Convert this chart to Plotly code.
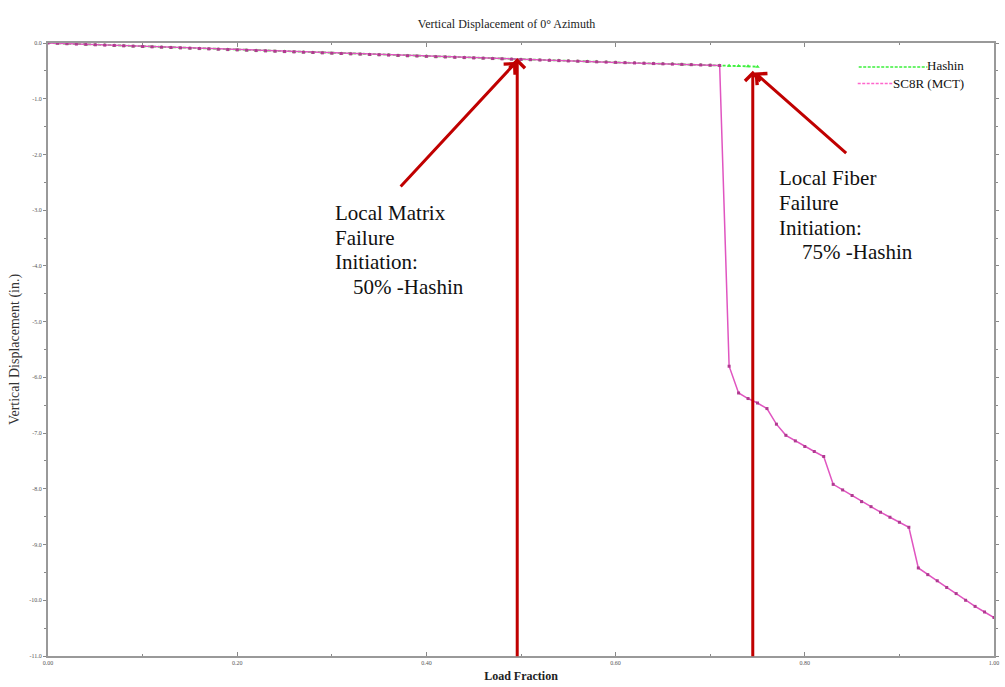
import plotly.graph_objects as go

# ---------------- data ----------------
hashin_x = [0.00, 0.01, 0.02, 0.03, 0.04, 0.05, 0.06, 0.07, 0.08, 0.09,
            0.10, 0.11, 0.12, 0.13, 0.14, 0.15, 0.16, 0.17, 0.18, 0.19,
            0.20, 0.21, 0.22, 0.23, 0.24, 0.25, 0.26, 0.27, 0.28, 0.29,
            0.30, 0.31, 0.32, 0.33, 0.34, 0.35, 0.36, 0.37, 0.38, 0.39,
            0.40, 0.41, 0.42, 0.43, 0.44, 0.45, 0.46, 0.47, 0.48, 0.49,
            0.50, 0.51, 0.52, 0.53, 0.54, 0.55, 0.56, 0.57, 0.58, 0.59,
            0.60, 0.61, 0.62, 0.63, 0.64, 0.65, 0.66, 0.67, 0.68, 0.69,
            0.70, 0.71, 0.72, 0.73, 0.74, 0.75]
hashin_y = [0.000, -0.006, -0.013, -0.019, -0.025, -0.032, -0.038, -0.044, -0.051, -0.057,
            -0.063, -0.069, -0.075, -0.081, -0.088, -0.094, -0.100, -0.106, -0.112, -0.118,
            -0.124, -0.130, -0.136, -0.142, -0.148, -0.154, -0.160, -0.166, -0.171, -0.177,
            -0.183, -0.189, -0.195, -0.200, -0.206, -0.212, -0.217, -0.223, -0.229, -0.234,
            -0.240, -0.246, -0.251, -0.257, -0.262, -0.268, -0.273, -0.279, -0.284, -0.290,
            -0.295, -0.300, -0.306, -0.311, -0.316, -0.322, -0.327, -0.332, -0.338, -0.343,
            -0.348, -0.353, -0.358, -0.364, -0.369, -0.374, -0.379, -0.384, -0.389, -0.394,
            -0.399, -0.404, -0.409, -0.414, -0.419, -0.424]

sc8r_x = [0.00, 0.01, 0.02, 0.03, 0.04, 0.05, 0.06, 0.07, 0.08, 0.09,
          0.10, 0.11, 0.12, 0.13, 0.14, 0.15, 0.16, 0.17, 0.18, 0.19,
          0.20, 0.21, 0.22, 0.23, 0.24, 0.25, 0.26, 0.27, 0.28, 0.29,
          0.30, 0.31, 0.32, 0.33, 0.34, 0.35, 0.36, 0.37, 0.38, 0.39,
          0.40, 0.41, 0.42, 0.43, 0.44, 0.45, 0.46, 0.47, 0.48, 0.49,
          0.50, 0.51, 0.52, 0.53, 0.54, 0.55, 0.56, 0.57, 0.58, 0.59,
          0.60, 0.61, 0.62, 0.63, 0.64, 0.65, 0.66, 0.67, 0.68, 0.69,
          0.70, 0.71, 0.72, 0.73, 0.74, 0.75, 0.76, 0.77, 0.78, 0.79,
          0.80, 0.81, 0.82, 0.83, 0.84, 0.85, 0.86, 0.87, 0.88, 0.89,
          0.90, 0.91, 0.92, 0.93, 0.94, 0.95, 0.96, 0.97, 0.98, 0.99,
          1.00]
sc8r_y = [0.000, -0.006, -0.013, -0.019, -0.025, -0.032, -0.038, -0.044, -0.051, -0.057,
          -0.063, -0.069, -0.075, -0.081, -0.088, -0.094, -0.100, -0.106, -0.112, -0.118,
          -0.124, -0.130, -0.136, -0.142, -0.148, -0.154, -0.160, -0.166, -0.171, -0.177,
          -0.183, -0.189, -0.195, -0.200, -0.206, -0.212, -0.217, -0.223, -0.229, -0.234,
          -0.240, -0.246, -0.251, -0.257, -0.262, -0.268, -0.273, -0.279, -0.284, -0.290,
          -0.295, -0.300, -0.306, -0.311, -0.316, -0.322, -0.327, -0.332, -0.338, -0.343,
          -0.348, -0.353, -0.358, -0.364, -0.369, -0.374, -0.379, -0.384, -0.389, -0.394,
          -0.399, -0.404, -5.80, -6.28, -6.38, -6.46, -6.56, -6.84, -7.04, -7.14,
          -7.24, -7.33, -7.42, -7.92, -8.02, -8.12, -8.23, -8.32, -8.42, -8.51,
          -8.60, -8.69, -9.42, -9.54, -9.65, -9.77, -9.88, -10.00, -10.11, -10.21,
          -10.31]

x_tick_vals = [0.0, 0.2, 0.4, 0.6, 0.8, 1.0]
x_tick_text = ["0.00", "0.20", "0.40", "0.60", "0.80", "1.00"]
y_tick_vals = [0, -1, -2, -3, -4, -5, -6, -7, -8, -9, -10, -11]
y_tick_text = ["0.0", "-1.0", "-2.0", "-3.0", "-4.0", "-5.0", "-6.0", "-7.0",
               "-8.0", "-9.0", "-10.0", "-11.0"]

matrix_init_x = 0.496
fiber_init_x = 0.745
arrow_base_y = -11.03

SERIF = "Liberation Serif, Times New Roman, serif"
RED = "#c00000"
GREEN = "#3cf03c"
PINK = "#e055c0"

L, R, T, B = 48, 6, 43, 31
PW = 1005 - L - R
PH = 687 - T - B

fig = go.Figure()

fig.add_trace(go.Scatter(
    x=hashin_x, y=hashin_y, mode="lines+markers", name="Hashin",
    line=dict(color=GREEN, width=1.8, dash="3px,2px"),
    marker=dict(color=GREEN, size=4, symbol="triangle-up"),
    showlegend=False,
))
fig.add_trace(go.Scatter(
    x=sc8r_x, y=sc8r_y, mode="lines+markers", name="SC8R (MCT)",
    line=dict(color=PINK, width=1.5),
    marker=dict(color="#b03a90", size=3, symbol="square"),
    showlegend=False,
))

# ---------- manual legend (line sample + right-aligned label) ----------
def px_x(p):
    return (p - L) / PW

def px_y(p):
    return (687 - B - p) / PH

fig.add_shape(type="line", xref="paper", yref="paper",
              x0=px_x(863), x1=px_x(932), y0=px_y(67), y1=px_y(67),
              line=dict(color=GREEN, width=1.5, dash="3px,1.5px"))
fig.add_shape(type="line", xref="paper", yref="paper",
              x0=px_x(862), x1=px_x(897), y0=px_y(83.5), y1=px_y(83.5),
              line=dict(color="#ff66cc", width=1.5, dash="3px,1.5px"))

annotations = [
    dict(text="Hashin", x=px_x(971), y=px_y(66), xanchor="right", yanchor="middle"),
    dict(text="SC8R (MCT)", x=px_x(971), y=px_y(83), xanchor="right", yanchor="middle"),
]
for a in annotations:
    fig.add_annotation(xref="paper", yref="paper", showarrow=False,
                       font=dict(family=SERIF, size=13, color="#111"), **a)

# ---------- text blocks ----------
left_lines = [("Local Matrix", 335, 213), ("Failure", 335, 238),
              ("Initiation:", 335, 262), ("50% -Hashin", 353, 287)]
right_lines = [("Local Fiber", 781, 178), ("Failure", 781, 203),
               ("Initiation:", 781, 228), ("75% -Hashin", 804, 252)]
for t, xp, yp in left_lines + right_lines:
    fig.add_annotation(xref="paper", yref="paper", x=px_x(xp), y=px_y(yp),
                       text=t, showarrow=False, xanchor="left", yanchor="middle",
                       font=dict(family=SERIF, size=21, color="#111"))

# ---------- red arrows ----------
arrow_common = dict(text="", showarrow=True, arrowhead=4, arrowsize=1.0,
                    arrowwidth=3, arrowcolor=RED, standoff=0, xref="x", yref="y")
# vertical arrows from the x axis up to the curves
fig.add_annotation(x=matrix_init_x, y=-0.27, ax=matrix_init_x, ay=arrow_base_y,
                   axref="x", ayref="y", **arrow_common)
fig.add_annotation(x=fiber_init_x, y=-0.50, ax=fiber_init_x, ay=arrow_base_y,
                   axref="x", ayref="y", **arrow_common)
# diagonal arrows from the text
fig.add_annotation(x=0.495, y=-0.34, ax=-117, ay=126, **arrow_common)
fig.add_annotation(x=0.747, y=-0.53, ax=93, ay=82, **arrow_common)

fig.update_layout(
    width=1005, height=687,
    margin=dict(l=L, r=R, t=T, b=B),
    paper_bgcolor="white", plot_bgcolor="white",
    title=dict(text="Vertical Displacement of 0° Azimuth", x=px_x(509), xref="paper",
               xanchor="center", y=1 - 24 / 687, yanchor="middle",
               font=dict(family=SERIF, size=12, color="#222")),
    font=dict(family=SERIF),
)

fig.update_xaxes(
    range=[0, 1], tickvals=x_tick_vals, ticktext=x_tick_text,
    showgrid=False, zeroline=False, showline=True, linecolor="#999", linewidth=2,
    mirror="ticks", ticks="inside", ticklen=4, tickcolor="#888", tickwidth=1,
    minor=dict(dtick=0.1, ticks="inside", ticklen=2, tickcolor="#888"),
    tickfont=dict(family=SERIF, size=6, color="#555"),
    title=dict(text="<b>Load Fraction</b>", standoff=6,
               font=dict(family=SERIF, size=12, color="#222")),
)
fig.update_yaxes(
    range=[-11, 0], tickvals=y_tick_vals, ticktext=y_tick_text,
    showgrid=False, zeroline=False, showline=True, linecolor="#999", linewidth=2,
    mirror="ticks", ticks="outside", ticklen=3, tickcolor="#888", tickwidth=1,
    minor=dict(dtick=0.5, ticks="outside", ticklen=2, tickcolor="#888"),
    tickfont=dict(family=SERIF, size=6, color="#555"),
    title=dict(text="Vertical Displacement (in.)", standoff=6,
               font=dict(family=SERIF, size=14, color="#333")),
)

fig.write_html("out.html")
